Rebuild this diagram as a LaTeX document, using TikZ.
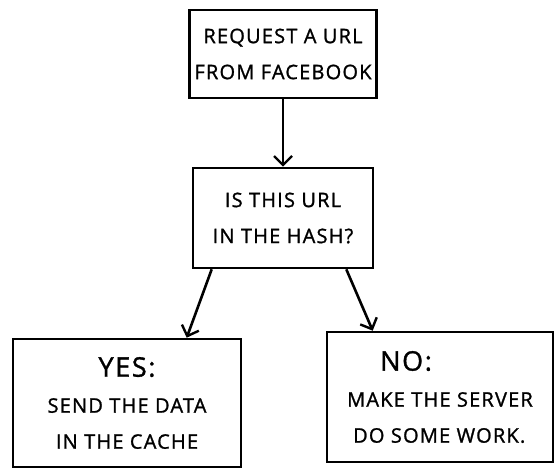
\documentclass[tikz,border=0pt]{standalone}
\usepackage{fontspec}
\newfontfamily\handfont[LetterSpace=6, FakeBold=1.2]{Open Sans}
\usetikzlibrary{arrows.meta}
\begin{document}
\begin{tikzpicture}[x=1pt, y=-1pt,
  font=\handfont\fontsize{20}{36}\selectfont,
  box/.style={draw, line width=2.6pt, minimum width=#1, align=center, inner sep=0pt},
  big/.style={font=\handfont\fontsize{27}{36}\selectfont},
  arr/.style={-{Straight Barb[length=9pt, width=18pt, line width=2.4pt]}, line width=2.6pt}
]
  \useasboundingbox (0,0) rectangle (556,470);
  % Requete de depart
  \node[box=187pt, minimum height=88pt] (req)  at (283, 54)  {REQUEST A URL\\FROM FACEBOOK};
  % Test dans le hash
  \node[box=180pt, minimum height=100pt] (hash) at (283, 218) {IS THIS URL\\IN THE HASH?};
  % Deux issues
  \node[box=228pt, minimum height=128pt] (yes)  at (127, 403)
        {{\fontsize{27}{36}\selectfont YES:}\\SEND THE DATA\\IN THE CACHE};
  \node[box=226pt, minimum height=130pt, align=left] (no) at (440, 397)
        {\hspace*{33pt}{\fontsize{27}{36}\selectfont NO:}\\MAKE THE SERVER\\\hspace*{6pt}DO SOME WORK.};
  % Fleches
  \draw[arr] (req.south) -- (hash.north);
  \draw[arr] ([xshift=20pt]hash.south west) -- ([xshift=175pt]yes.north west);
  \draw[arr] ([xshift=-28pt]hash.south east) -- ([xshift=47pt]no.north west);
\end{tikzpicture}
\end{document}
